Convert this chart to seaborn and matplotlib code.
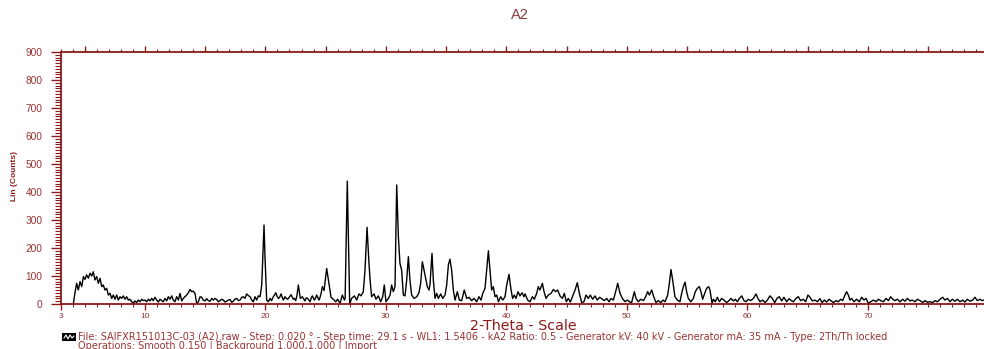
"""XRD pattern of sample A2 (Lin counts vs 2-Theta), redrawn with seaborn."""
import matplotlib
matplotlib.use("Agg")

import matplotlib.pyplot as plt
import numpy as np
import pandas as pd
import seaborn as sns
from matplotlib.lines import Line2D
from matplotlib.patches import Rectangle
from matplotlib.ticker import FixedLocator, MultipleLocator

# --- scan data (2-Theta in degrees, Lin counts) ---
low_2theta = [4.07, 4.20, 4.34, 4.48, 4.62, 4.76, 4.90, 5.03, 5.17, 5.31, 5.45, 5.59, 5.72, 5.86,
              6.00, 6.14, 6.28, 6.42, 6.55, 6.69, 6.83, 6.97, 7.11, 7.25, 7.38, 7.52, 7.66, 7.80,
              7.94, 8.08, 8.21, 8.35, 8.49, 8.63, 8.77, 8.91, 9.04, 9.18, 9.32, 9.46, 9.60, 9.74,
              9.87, 10.01, 10.15, 10.29, 10.43, 10.57, 10.70, 10.84, 10.98, 11.12, 11.26, 11.40,
              11.53, 11.67, 11.81, 11.95, 12.09, 12.23, 12.36, 12.50, 12.64, 12.78, 12.92, 13.06,
              13.19, 13.33, 13.47, 13.61, 13.75, 13.89, 14.02, 14.16, 14.30, 14.44, 14.58, 14.72,
              14.85, 14.99, 15.13, 15.27, 15.41, 15.55, 15.68, 15.82, 15.96]
low_counts = [2, 40, 74, 50, 80, 62, 98, 88, 104, 92, 110, 100, 115, 86,
              98, 74, 92, 62, 68, 50, 56, 32, 38, 20, 32, 17, 32, 14,
              26, 20, 29, 17, 26, 14, 17, 8, 2, 11, 5, 14, 8, 17,
              12, 14, 8, 17, 11, 20, 12, 24, 14, 7, 17, 12,
              8, 20, 11, 26, 17, 29, 14, 8, 26, 14, 38, 11,
              20, 26, 32, 40, 52, 44, 46, 38, 2, 8, 26, 24,
              14, 11, 19, 12, 10, 20, 14, 20, 16]

mid_2theta = [16.10, 16.24, 16.38, 16.52, 16.65, 16.79, 16.93, 17.07, 17.21, 17.34, 17.48, 17.62,
              17.76, 17.90, 18.03, 18.17, 18.31, 18.45, 18.59, 18.73, 18.87, 19.00, 19.14, 19.28,
              19.42, 19.56, 19.70, 19.89, 19.97, 20.11, 20.25, 20.39, 20.52, 20.66, 20.76, 20.86,
              20.97, 21.08, 21.19, 21.30, 21.49, 21.63, 21.74, 21.85, 21.98, 22.13, 22.22, 22.32,
              22.42, 22.52, 22.62, 22.74, 22.90, 23.07, 23.18, 23.29, 23.40, 23.51, 23.61, 23.71,
              23.80, 23.90, 23.98, 24.07, 24.16, 24.26, 24.36, 24.45, 24.54, 24.62, 24.73, 24.87,
              25.09, 25.28, 25.45, 25.64, 25.84, 26.00, 26.20, 26.39, 26.56, 26.62, 26.80, 26.91,
              27.00, 27.16, 27.39, 27.58, 27.77, 27.94, 28.13, 28.27, 28.44, 28.60]
mid_counts = [8, 12, 17, 14, 7, 10, 14, 16, 6, 10, 17, 20,
              12, 14, 23, 26, 20, 36, 30, 26, 14, 8, 26, 14,
              29, 26, 68, 282, 169, 14, 8, 20, 12, 26, 32, 40,
              28, 20, 24, 36, 14, 26, 20, 17, 24, 33, 26, 17,
              20, 12, 30, 68, 20, 26, 18, 11, 22, 20, 14, 8,
              20, 29, 22, 14, 20, 32, 22, 14, 24, 36, 62, 48,
              127, 74, 24, 17, 8, 17, 2, 32, 14, 20, 439, 200,
              0, 20, 29, 14, 36, 29, 44, 121, 274, 145]

main_2theta = [28.69, 28.82, 29.02, 29.18, 29.38, 29.57, 29.74, 29.87, 30.01, 30.21, 30.35, 30.48,
               30.62, 30.76, 30.90, 31.04, 31.17, 31.31, 31.45, 31.59, 31.73, 31.87, 32.00, 32.14,
               32.34, 32.56, 32.75, 32.89, 33.03, 33.17, 33.33, 33.44, 33.58, 33.66, 33.83, 33.94,
               34.08, 34.22, 34.36, 34.55, 34.72, 34.91, 35.05, 35.19, 35.32, 35.46, 35.60, 35.74,
               35.93, 36.10, 36.29, 36.51, 36.71, 36.90, 37.12, 37.32, 37.54, 37.73, 37.90, 38.04,
               38.23, 38.37, 38.51, 38.64, 38.78, 38.92, 39.06, 39.20, 39.34, 39.53, 39.70, 39.89,
               40.03, 40.22, 40.39, 40.52, 40.66, 40.80, 40.97, 41.13, 41.30, 41.46]
main_counts = [86, 26, 36, 17, 29, 8, 26, 68, 8, 20, 32, 68,
               44, 62, 425, 240, 145, 121, 32, 29, 86, 169, 86, 32,
               20, 26, 40, 74, 151, 121, 86, 62, 50, 68, 181, 86,
               20, 38, 20, 36, 20, 32, 68, 140, 160, 121, 50, 14,
               44, 14, 12, 50, 20, 24, 12, 20, 8, 26, 14, 38,
               56, 121, 190, 121, 50, 62, 26, 32, 8, 26, 14, 26,
               68, 106, 50, 20, 32, 20, 44, 29, 40, 26]

high_2theta = [41.55, 41.77, 41.96, 42.16, 42.32, 42.52, 42.65, 42.79, 42.99, 43.13, 43.29, 43.48,
               43.71, 43.90, 44.09, 44.26, 44.45, 44.65, 44.81, 44.98, 45.14, 45.31, 45.48, 45.70,
               45.89, 46.06, 46.25, 46.44, 46.61, 46.80, 46.97, 47.16, 47.36, 47.55, 47.74, 47.97,
               48.13, 48.33, 48.52, 48.69, 48.88, 49.07, 49.24, 49.43, 49.63, 49.85, 50.04, 50.21,
               50.40, 50.62, 50.76, 50.95, 51.15, 51.37, 51.56, 51.73, 51.87, 52.06, 52.23, 52.42,
               52.61, 52.81, 53.00, 53.17, 53.39, 53.53, 53.66, 53.80, 53.99, 54.19, 54.41,
               54.55, 54.69, 54.83, 54.96, 55.10, 55.30, 55.52, 55.68, 55.85, 56.02, 56.15, 56.29,
               56.46, 56.62, 56.79, 56.90, 57.07, 57.18, 57.34, 57.51, 57.68, 57.87, 58.06, 58.28,
               58.48, 58.64, 58.84, 59.00, 59.17, 59.34, 59.53, 59.72, 59.89, 60.08, 60.28, 60.50,
               60.72, 60.88, 61.05, 61.27, 61.47, 61.66, 61.88, 62.07, 62.27, 62.46, 62.65, 62.85,
               63.04, 63.26, 63.46, 63.65, 63.82, 64.04, 64.23, 64.42, 64.65, 64.84, 65.03, 65.20,
               65.39, 65.61, 65.81, 66.03, 66.20, 66.39, 66.58, 66.78]
high_counts = [36, 14, 8, 26, 17, 38, 62, 50, 74, 44, 20, 32,
               38, 52, 44, 50, 29, 20, 38, 8, 20, 7, 26, 50,
               76, 38, 5, 8, 32, 20, 32, 17, 29, 14, 24, 17,
               12, 20, 8, 20, 14, 44, 74, 38, 20, 8, 14, 8,
               5, 44, 20, 8, 17, 12, 26, 44, 32, 50, 26, 5,
               12, 5, 14, 8, 32, 74, 123, 86, 26, 14, 8,
               38, 62, 78, 44, 20, 8, 20, 44, 56, 62, 44, 17,
               38, 56, 62, 50, 2, 17, 8, 24, 8, 20, 14, 5,
               12, 20, 11, 17, 8, 20, 29, 12, 8, 17, 12, 20,
               36, 20, 8, 14, 5, 14, 29, 20, 5, 20, 26, 11,
               24, 8, 19, 12, 8, 20, 26, 12, 17, 8, 32, 24,
               11, 14, 8, 19, 5, 14, 7, 17]

tail_2theta = [67.14, 67.36, 67.55, 67.75, 67.91, 68.10, 68.24, 68.38, 68.52, 68.66, 68.85, 69.07,
               69.29, 69.49, 69.68, 69.85, 70.04, 70.23, 70.46, 70.68, 70.87, 71.07, 71.29, 71.51,
               71.70, 71.89, 72.06, 72.25, 72.45, 72.67, 72.89, 73.08, 73.28, 73.50, 73.69, 73.91,
               74.11, 74.33, 74.55, 74.74, 74.94, 75.16, 75.38, 75.57, 75.77, 75.99, 76.21, 76.40,
               76.60, 76.82, 77.01, 77.23, 77.43, 77.65, 77.87, 78.06, 78.26, 78.48, 78.70, 78.89,
               79.09, 79.31, 79.47, 79.64, 79.90]
tail_counts = [5, 12, 8, 17, 12, 32, 44, 32, 14, 20, 8, 17,
               8, 24, 14, 20, 2, 8, 14, 8, 17, 12, 8, 20,
               12, 26, 17, 12, 17, 8, 17, 10, 20, 11, 14, 8,
               17, 12, 5, 12, 6, 8, 5, 12, 8, 17, 24, 14,
               20, 8, 17, 10, 17, 8, 14, 7, 17, 10, 14, 24,
               12, 17, 12, 14, 10]

x_ticks = [3, 10, 20, 30, 40, 50, 60, 70, 80]
y_ticks = [0, 100, 200, 300, 400, 500, 600, 700, 800, 900]

title_text = "A2"
x_label = "2-Theta - Scale"
y_label = "Lin (Counts)"
footer_lines = [
    "File: SAIFXR151013C-03 (A2).raw - Step: 0.020 \u00b0 - Step time: 29.1 s - WL1: 1.5406 - "
    "kA2 Ratio: 0.5 - Generator kV: 40 kV - Generator mA: 35 mA - Type: 2Th/Th locked",
    "Operations: Smooth 0.150 | Background 1.000,1.000 | Import",
]

AXIS_RED = "#8b1a1a"
TEXT_RED = "#993333"

scan = pd.DataFrame({
    "two_theta": low_2theta + mid_2theta + main_2theta + high_2theta + tail_2theta,
    "counts": low_counts + mid_counts + main_counts + high_counts + tail_counts,
})

sns.set_style("white")
plt.rcParams["font.family"] = ["Liberation Sans", "DejaVu Sans"]

W, H = 984, 349
fig = plt.figure(figsize=(W / 100, H / 100), dpi=100)
# plot area: 2-Theta 3 at x=60.5 px, ~12.05 px per degree; counts 0 at y=304, 900 at y=52
ax = fig.add_axes([60.5 / W, 45 / H, 77 * 12.05 / W, 252 / H])

sns.lineplot(data=scan, x="two_theta", y="counts", ax=ax, color="black", linewidth=1.0,
             sort=False, estimator=None)

ax.set_xlim(3, 80)
ax.set_ylim(0, 900)
ax.set_xlabel("")
ax.set_ylabel("")

for side in ("left", "bottom"):
    ax.spines[side].set_color(AXIS_RED)
    ax.spines[side].set_linewidth(1.3)
ax.spines["right"].set_visible(False)
ax.spines["top"].set_visible(False)

ax.xaxis.set_major_locator(FixedLocator(x_ticks))
ax.xaxis.set_minor_locator(MultipleLocator(1))
ax.set_xticks(x_ticks, [str(t) for t in x_ticks])
ax.yaxis.set_major_locator(FixedLocator(y_ticks))
ax.yaxis.set_minor_locator(MultipleLocator(10))
ax.set_yticks(y_ticks, [str(t) for t in y_ticks])

ax.tick_params(axis="x", which="major", direction="out", length=4, width=1.0,
               color=AXIS_RED, labelcolor=TEXT_RED, labelsize=6, pad=2.5, bottom=True)
ax.tick_params(axis="x", which="minor", direction="out", length=2, width=0.8,
               color=AXIS_RED, bottom=True)
ax.tick_params(axis="y", which="major", direction="out", length=7, width=1.0,
               color=AXIS_RED, labelcolor=TEXT_RED, labelsize=7.3, pad=6, left=True)
ax.tick_params(axis="y", which="minor", direction="out", length=4, width=0.8,
               color=AXIS_RED, left=True)

# top scale: ticks every degree, longer every 5 degrees, no labels
top = ax.secondary_xaxis("top")
top.xaxis.set_major_locator(MultipleLocator(5))
top.xaxis.set_minor_locator(MultipleLocator(1))
top.spines["top"].set_color(AXIS_RED)
top.spines["top"].set_linewidth(1.3)
top.tick_params(which="major", direction="out", length=4, width=1.0, color=AXIS_RED,
                labeltop=False)
top.tick_params(which="minor", direction="out", length=2.5, width=0.8, color=AXIS_RED)

fig.text(520 / W, 1 - 15 / H, title_text, ha="center", va="center", fontsize=10.5,
         color="#8b3a3a")
fig.text(523 / W, 1 - 326 / H, x_label, ha="center", va="center", fontsize=10.3,
         color=AXIS_RED, family="DejaVu Sans")
fig.text(15 / W, 1 - 176 / H, y_label, ha="center", va="center", rotation=90,
         fontsize=6, fontweight="bold", color=AXIS_RED)

fig.text(78 / W, 1 - 337.2 / H, footer_lines[0], ha="left", va="center", fontsize=7.0,
         color=TEXT_RED, family="DejaVu Sans")
fig.text(78 / W, 1 - 345.5 / H, footer_lines[1], ha="left", va="center", fontsize=7.0,
         color=TEXT_RED, family="DejaVu Sans")

# small black scan icon in front of the footer
fig.add_artist(Rectangle((62 / W, 1 - 341 / H), 14 / W, 8 / H, transform=fig.transFigure,
                         facecolor="black", edgecolor="none"))
fig.add_artist(Line2D([64 / W, 66 / W, 68 / W, 70 / W, 72 / W, 74 / W],
                      [1 - 338 / H, 1 - 335 / H, 1 - 339 / H, 1 - 335 / H, 1 - 338 / H, 1 - 336 / H],
                      transform=fig.transFigure, color="white", linewidth=0.8))

fig.savefig("out.png", dpi=100)
